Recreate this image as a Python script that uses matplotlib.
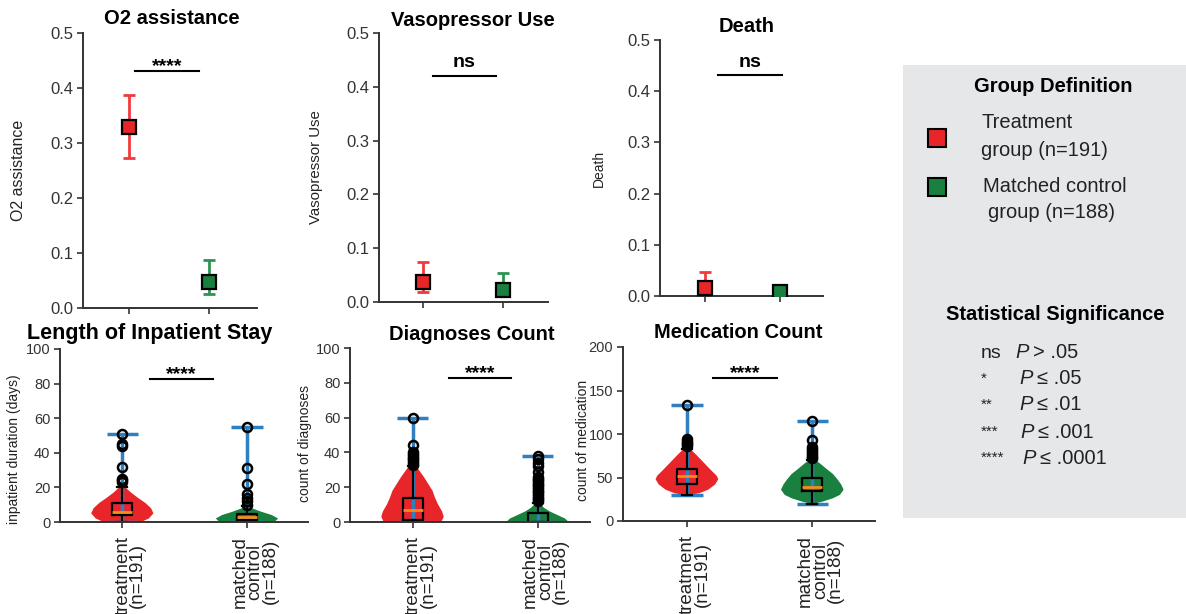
import matplotlib
matplotlib.use('Agg')
import matplotlib.pyplot as plt
import matplotlib.transforms as mtransforms
from matplotlib.patches import Rectangle

plt.rcParams['font.family'] = ['Liberation Sans', 'DejaVu Sans']

# ---- data ----
groups = ['treatment\n(n=191)', 'matched\ncontrol\n(n=188)']

# rate panels: mean and error bar ends (treatment, control)
o2_mean = [0.330, 0.048]
o2_low = [0.273, 0.026]
o2_high = [0.387, 0.088]

vaso_mean = [0.038, 0.022]
vaso_low = [0.018, 0.012]
vaso_high = [0.074, 0.053]

death_mean = [0.015, 0.008]
death_low = [0.000, 0.002]
death_high = [0.046, 0.020]

# violin outlines (value levels and relative half-widths)
stay_t_y = [0, 2, 5, 8, 11, 14, 17, 20, 25, 35, 45, 51]
stay_t_w = [0.6, 0.85, 1.0, 0.92, 0.74, 0.5, 0.28, 0.1, 0.03, 0.02, 0.015, 0.01]
stay_c_y = [0, 2, 4, 6, 8, 9, 12, 20, 31, 55]
stay_c_w = [0.88, 1.0, 0.8, 0.45, 0.15, 0.05, 0.02, 0.01, 0.005, 0.003]

diag_t_y = [0, 3, 6, 10, 14, 18, 22, 26, 30, 33, 40, 50, 60]
diag_t_w = [0.92, 1.0, 0.95, 0.82, 0.72, 0.64, 0.5, 0.36, 0.2, 0.08, 0.02, 0.01, 0.005]
diag_c_y = [0, 2, 4, 6, 8, 10, 12, 20, 30, 38]
diag_c_w = [1.0, 0.88, 0.64, 0.4, 0.22, 0.1, 0.04, 0.02, 0.01, 0.005]

med_t_y = [30, 32, 36, 42, 48, 52, 58, 64, 70, 76, 82, 86, 95, 133]
med_t_w = [0.1, 0.4, 0.68, 0.9, 1.0, 0.95, 0.78, 0.62, 0.46, 0.3, 0.13, 0.04, 0.01, 0.005]
med_c_y = [20, 22, 26, 30, 36, 42, 48, 54, 60, 66, 70, 75, 90, 115]
med_c_w = [0.05, 0.3, 0.65, 0.88, 1.0, 0.92, 0.8, 0.66, 0.45, 0.25, 0.1, 0.03, 0.01, 0.005]

# box summaries: q1, median, q3, whisker low, whisker high, outliers
stay_t_box = [4, 6, 11, 0, 20]
stay_t_out = [23, 24, 25, 32, 44, 45, 51]
stay_c_box = [1, 3, 4.5, 0, 9]
stay_c_out = [10, 12, 14, 16, 22, 31, 55]

diag_t_box = [1, 7, 14, 0, 32]
diag_t_out = [33, 34, 35, 36, 37, 38, 39, 40, 44, 60]
diag_c_box = [0, 0, 5, 0, 11]
diag_c_out = [12, 13, 14, 15, 16, 17, 18, 19, 20, 21, 22, 23, 24, 25, 26, 29, 32, 34, 36, 38]

med_t_box = [43, 52, 60, 30, 83]
med_t_out = [86, 88, 90, 92, 94, 133]
med_c_box = [34, 39.5, 50, 20, 70]
med_c_out = [72, 74, 76, 78, 80, 83, 85, 93, 115]

RED = '#e8262a'
GREEN = '#19803f'
RED_BAR = '#f2393c'
GREEN_BAR = '#2b9453'
BLUE = '#2f7fc1'
ORANGE = '#f28c1e'
INK = '#333333'

W, H = 1186, 614
fig = plt.figure(figsize=(W / 100, H / 100), dpi=100)


def px_axes(l, t, r, b):
    return fig.add_axes([l / W, 1 - b / H, (r - l) / W, (b - t) / H])


def fx(x):
    return x / W


def fy(y):
    return 1 - y / H


def style(ax, ysize):
    for s in ('top', 'right'):
        ax.spines[s].set_visible(False)
    for s in ('left', 'bottom'):
        ax.spines[s].set_linewidth(1.4)
        ax.spines[s].set_color(INK)
    ax.tick_params(axis='y', length=4, width=1.2, color=INK, labelcolor=INK,
                   labelsize=ysize, pad=3)
    ax.tick_params(axis='x', length=4, width=1.2, color=INK)


def sig_bar(ax, x0, x1, y, text, size=14, gap=0.0):
    ax.plot([x0, x1], [y, y], color='black', lw=1.5, clip_on=False)
    ax.text((x0 + x1) / 2, y + gap, text, ha='center', va='baseline',
            fontsize=size, fontweight='bold', clip_on=False)


# ---- top row: rates ----
top = [
    dict(box=(83, 33, 257, 308), xlim=(-0.575, 1.6), m=o2_mean, lo=o2_low, hi=o2_high,
         title='O2 assistance', tpos=(172, 18), ylabel='O2 assistance', lx=26, lsize=11.5,
         sig='****', sx=(0.075, 0.875), sy=0.431, gap=0.0),
    dict(box=(379, 33, 548, 302), xlim=(-0.55, 1.56), m=vaso_mean, lo=vaso_low, hi=vaso_high,
         title='Vasopressor Use', tpos=(473, 20), ylabel='Vasopressor Use', lx=323, lsize=10.8,
         sig='ns', sx=(0.125, 0.91), sy=0.42, gap=0.017),
    dict(box=(660, 40, 823, 296), xlim=(-0.6, 1.57), m=death_mean, lo=death_low, hi=death_high,
         title='Death', tpos=(747, 27), ylabel='Death', lx=606, lsize=10,
         sig='ns', sx=(0.17, 1.03), sy=0.431, gap=0.016),
]

for p in top:
    l, t, r, b = p['box']
    ax = px_axes(l, t, r, b)
    style(ax, 12)
    ax.set_xlim(*p['xlim'])
    ax.set_ylim(0, 0.5)
    ax.set_yticks([0, 0.1, 0.2, 0.3, 0.4, 0.5])
    ax.set_xticks([0, 1])
    ax.set_xticklabels([])
    for i, (c, cb) in enumerate([(RED, RED_BAR), (GREEN, GREEN_BAR)]):
        ax.errorbar([i], [p['m'][i]],
                    yerr=[[p['m'][i] - p['lo'][i]], [p['hi'][i] - p['m'][i]]],
                    fmt='none', ecolor=cb, elinewidth=2, capsize=4, capthick=2, zorder=2)
        ax.plot([i], [p['m'][i]], 's', ms=10, mfc=c, mec='black', mew=1.6, zorder=3)
    ax.set_ylabel(p['ylabel'], fontsize=p['lsize'], color='#222222')
    ax.yaxis.set_label_coords((p['lx'] - l) / (r - l), 0.5)
    sig_bar(ax, p['sx'][0], p['sx'][1], p['sy'], p['sig'], gap=p['gap'])
    fig.text(fx(p['tpos'][0]), fy(p['tpos'][1]), p['title'], ha='center', va='center',
             fontsize=14.5, fontweight='bold')


# ---- bottom row: distributions ----
def vstat(ys, ws, box):
    return dict(coords=ys, vals=ws, mean=box[1], median=box[1], min=min(ys), max=max(ys))


def bstat(box, out):
    return dict(q1=box[0], med=box[1], q3=box[2], whislo=box[3], whishi=box[4], fliers=out)


bottom = [
    dict(box=(60, 349, 308, 522), xlim=(-0.5, 1.49), ylim=(0, 100), yt=[0, 20, 40, 60, 80, 100],
         v=[vstat(stay_t_y, stay_t_w, stay_t_box), vstat(stay_c_y, stay_c_w, stay_c_box)],
         bx=[bstat(stay_t_box, stay_t_out), bstat(stay_c_box, stay_c_out)],
         title='Length of Inpatient Stay', tpos=(150, 334), tsize=15.5,
         ylabel='inpatient duration (days)', lx=21, ly=449, sx=(0.22, 0.73), sy=82.7),
    dict(box=(350, 348, 590, 522), xlim=(-0.5, 1.42), ylim=(0, 100), yt=[0, 20, 40, 60, 80, 100],
         v=[vstat(diag_t_y, diag_t_w, diag_t_box), vstat(diag_c_y, diag_c_w, diag_c_box)],
         bx=[bstat(diag_t_box, diag_t_out), bstat(diag_c_box, diag_c_out)],
         title='Diagnoses Count', tpos=(472, 334), tsize=14.5,
         ylabel='count of diagnoses', lx=312, ly=443, sx=(0.29, 0.79), sy=83),
    dict(box=(623, 347, 875, 521), xlim=(-0.51, 1.5), ylim=(0, 200), yt=[0, 50, 100, 150, 200],
         v=[vstat(med_t_y, med_t_w, med_t_box), vstat(med_c_y, med_c_w, med_c_box)],
         bx=[bstat(med_t_box, med_t_out), bstat(med_c_box, med_c_out)],
         title='Medication Count', tpos=(738, 333), tsize=14.5,
         ylabel='count of medication', lx=590, ly=440, sx=(0.21, 0.72), sy=164),
]

offset = mtransforms.ScaledTranslation(8 / 100, 0, fig.dpi_scale_trans)

for p in bottom:
    l, t, r, b = p['box']
    ax = px_axes(l, t, r, b)
    style(ax, 10.5)
    parts = ax.violin(p['v'], positions=[0, 1], widths=0.5, showextrema=True)
    for body, c in zip(parts['bodies'], [RED, GREEN]):
        body.set_facecolor(c)
        body.set_edgecolor('none')
        body.set_alpha(1)
    for k in ('cmins', 'cmaxes', 'cbars'):
        parts[k].set_color(BLUE)
        parts[k].set_linewidth(2.5)
    ax.bxp(p['bx'], positions=[0, 1], widths=0.16, manage_ticks=False,
           boxprops=dict(color='black', lw=1.6),
           whiskerprops=dict(color='black', lw=1.6),
           capprops=dict(color='black', lw=1.6),
           medianprops=dict(color=ORANGE, lw=2),
           flierprops=dict(marker='o', mfc='none', mec='black', ms=6.5, mew=1.8))
    ax.set_xlim(*p['xlim'])
    ax.set_ylim(*p['ylim'])
    ax.set_yticks(p['yt'])
    ax.set_xticks([0, 1])
    ax.set_xticklabels(groups, rotation=90, fontsize=13.5, linespacing=0.85,
                       multialignment='center', color='#222222')
    ax.tick_params(axis='x', pad=6)
    for lab in ax.get_xticklabels():
        lab.set_transform(lab.get_transform() + offset)
    ax.set_ylabel(p['ylabel'], fontsize=10, color='#222222')
    ax.yaxis.set_label_coords((p['lx'] - l) / (r - l), 1 - (p['ly'] - t) / (b - t))
    sig_bar(ax, p['sx'][0], p['sx'][1], p['sy'], '****')
    fig.text(fx(p['tpos'][0]), fy(p['tpos'][1]), p['title'], ha='center', va='center',
             fontsize=p['tsize'], fontweight='bold')

# ---- legend panel ----
fig.patches.append(Rectangle((fx(903), fy(518)), fx(1186) - fx(903), fy(65) - fy(518),
                             transform=fig.transFigure, facecolor='#e6e7e9',
                             edgecolor='none', zorder=0))
fig.text(fx(1053), fy(86), 'Group Definition', ha='center', va='center',
         fontsize=14.5, fontweight='bold')
for (cy, c) in [(138, RED), (187, GREEN)]:
    fig.patches.append(Rectangle((fx(928), fy(cy + 9)), 18 / W, 18 / H,
                                 transform=fig.transFigure, facecolor=c,
                                 edgecolor='black', lw=1.5, zorder=2))
legend_lines = [(981, 123, 'Treatment'), (981, 150, 'group (n=191)'),
                (983, 187, 'Matched control'), (988, 213, 'group (n=188)')]
for x, y, s in legend_lines:
    fig.text(fx(x), fy(y), s, ha='left', va='center', fontsize=14.5, color='#222222')

fig.text(fx(946), fy(315), 'Statistical Significance', ha='left', va='center',
         fontsize=14.5, fontweight='bold')
sig_symbols = ['ns', '*', '**', '***', '****']
sig_rules = ['> .05', '\u2264 .05', '\u2264 .01', '\u2264 .001', '\u2264 .0001']
sig_px = [1015, 1019, 1019, 1020, 1022]
sig_rows = [353, 379, 405, 432, 458]
for sym, rule, px, y in zip(sig_symbols, sig_rules, sig_px, sig_rows):
    fig.text(fx(981), fy(y), sym, ha='left', va='center', fontsize=14 if sym == 'ns' else 11,
             color='#222222')
    fig.text(fx(px), fy(y), 'P', ha='left', va='center', fontsize=14.5, style='italic',
             color='#222222')
    fig.text(fx(px + 18), fy(y), rule, ha='left', va='center', fontsize=14.5, color='#222222')

fig.savefig('out.png', dpi=100)
